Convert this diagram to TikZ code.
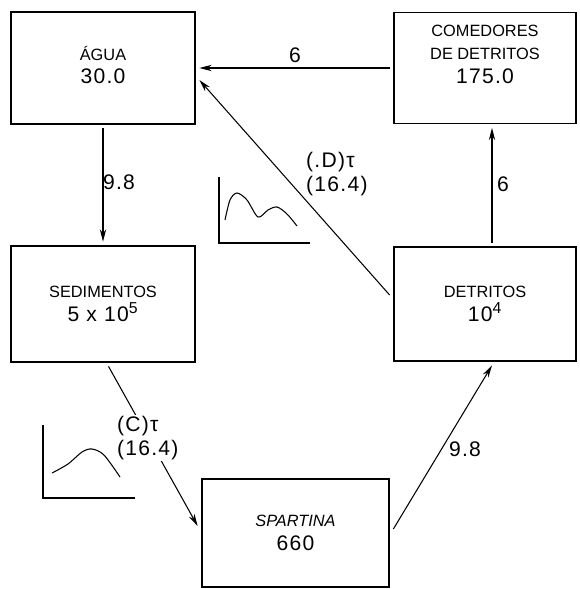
\documentclass[tikz,border=0pt]{standalone}
\usepackage{fontspec}
\setmainfont{Liberation Sans}
\usetikzlibrary{arrows.meta,positioning,calc}

\newcommand{\valfont}{\fontsize{12}{13.5}\selectfont\addfontfeature{LetterSpace=6}}

\begin{document}
\begin{tikzpicture}[x=0.02cm,y=-0.02cm,
        box/.style={draw, line width=0.8pt, outer sep=2.5pt, align=center,
            font=\fontsize{9.3}{13.5}\selectfont},
        flow/.style={-{Stealth[length=7pt,width=3.6pt]}, line width=0.6pt},
        val/.style={font=\valfont},
        axis/.style={line width=0.6pt}]

                % Frame
                \useasboundingbox (0,0) rectangle (579,589);

                % Compartments
                \node[box, minimum width=3.68cm, minimum height=2.24cm, text depth=0.12cm] (agua) at (103,68) {ÁGUA\\{\valfont 30.0}};
                \node[box, minimum width=3.64cm, minimum height=2.22cm, text depth=0.55cm] (comedores) at (485,68) {COMEDORES\\DE DETRITOS\\{\valfont 175.0}};
                \node[box, minimum width=3.68cm, minimum height=2.32cm] (sedimentos) at (103,304) {SEDIMENTOS\\{\valfont 5 x 10\textsuperscript{\small 5}}};
                \node[box, minimum width=3.64cm, minimum height=2.28cm] (detritos) at (485,304) {DETRITOS\\{\valfont 10\textsuperscript{\small 4}}};
                \node[box, minimum width=3.74cm, minimum height=2.16cm] (spartina) at (295.5,533) {\textit{SPARTINA}\\{\valfont 660}};

                % Flows
                \draw[flow] (agua.south) -- (sedimentos.north);
                \draw[flow] (comedores.west) -- (agua.east);
                \draw[flow] ([xshift=0.14cm]detritos.north) -- ([xshift=0.14cm]comedores.south);
                \draw[flow] ([yshift=0.18cm]detritos.west) -- ([yshift=-0.24cm]agua.east);
                \draw[flow] ([xshift=0.11cm]sedimentos.south) -- ([yshift=0.14cm]spartina.west);
                \draw[flow] ([yshift=0.08cm]spartina.east) -- ([xshift=0.14cm]detritos.south);

                % Flow labels
                \node[val] (lagua) at (119,182) {9.8};
                \node[val] (lcom) at (295,55) {6};
                \node[val] (ldet) at (503,184) {6};
                \node[val, anchor=west, align=left] (ldt) at (300,174) {(.D)τ\\(16.4)};
                \node[val, anchor=west, align=left, fill=white, inner sep=1pt] (lct) at (115,438) {(C)τ\\(16.4)};
                \node[val] (lspa) at (465,449) {9.8};

                % Small graph for D
                \draw[axis] (219,177) -- (219,243) -- (310,243);
                \draw[axis] plot[smooth] coordinates {(225,220) (230,200) (237,193) (247,200) (258,217) (268,210) (277,207) (287,214) (297,226)};

                % Small graph for C
                \draw[axis] (43,425) -- (43,498) -- (135,498);
                \draw[axis] plot[smooth] coordinates {(52,473) (68,464) (82,452) (92,449) (104,455) (120,477)};
            \end{tikzpicture}
\end{document}
